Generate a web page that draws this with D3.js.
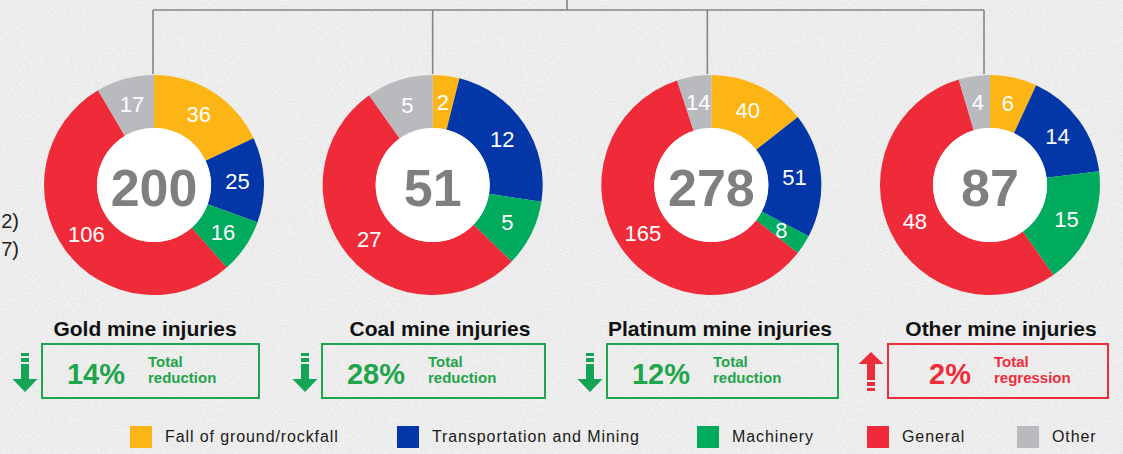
<!DOCTYPE html>
<html>
<head>
<meta charset="utf-8">
<script src="https://cdn.jsdelivr.net/npm/d3@7"></script>
<style>
  html, body { margin: 0; padding: 0; background: #efefef; }
  svg { display: block; font-family: "Liberation Sans", Arial, sans-serif; }
</style>
</head>
<body>
<svg id="chart" width="1123" height="454"></svg>
<script>
// ---- data ----
const categories = ["Fall of ground/rockfall", "Transportation and Mining", "Machinery", "General", "Other"];
const mines = ["Gold mine injuries", "Coal mine injuries", "Platinum mine injuries", "Other mine injuries"];
const goldValues = [36, 25, 16, 106, 17];
const coalValues = [2, 12, 5, 27, 5];
const platinumValues = [40, 51, 8, 165, 14];
const otherValues = [6, 14, 15, 48, 4];
const totals = [200, 51, 278, 87];
const changePct = ["14%", "28%", "12%", "2%"];
const changeDir = ["down", "down", "down", "up"];
const changeText = [["Total", "reduction"], ["Total", "reduction"], ["Total", "reduction"], ["Total", "regression"]];
const sideText = ["2)", "7)"];

const seriesValues = [goldValues, coalValues, platinumValues, otherValues];
const colors = ["#fdb515", "#0336a6", "#00ab5e", "#ef2b3a", "#b8babd"];

const svg = d3.select("#chart");
const W = 1123, H = 454;

// background texture
const defs = svg.append("defs");
const f = defs.append("filter").attr("id", "tex").attr("x", 0).attr("y", 0).attr("width", "100%").attr("height", "100%");
f.append("feTurbulence").attr("type", "fractalNoise").attr("baseFrequency", 0.8).attr("numOctaves", 2).attr("seed", 3).attr("result", "n");
f.append("feColorMatrix").attr("in", "n").attr("type", "matrix")
  .attr("values", "0 0 0 0 0.45  0 0 0 0 0.45  0 0 0 0 0.45  0 0 0 -1.6 0.9");
svg.append("rect").attr("width", W).attr("height", H).attr("fill", "#f0f0f0");
svg.append("rect").attr("width", W).attr("height", H).attr("filter", "url(#tex)").attr("opacity", 0.4);

const x = d3.scalePoint().domain(mines).range([154, 990]);
const cy = 185, rOuter = 110, rInner = 57;

// connector lines
const lineOffsets = [-1, 0, -4, -6];
const lineX = mines.map((m, i) => x(m) + lineOffsets[i]);
const lineG = svg.append("g").attr("stroke", "#858585").attr("stroke-width", 1.6).attr("fill", "none");
lineG.append("line").attr("x1", lineX[0]).attr("x2", lineX[3]).attr("y1", 10).attr("y2", 10);
lineG.append("line").attr("x1", 567).attr("x2", 567).attr("y1", 0).attr("y2", 10);
lineX.forEach(lx => lineG.append("line").attr("x1", lx).attr("x2", lx).attr("y1", 10).attr("y2", 74));

// side text (cut off)
svg.append("g").selectAll("text").data(sideText).join("text")
  .attr("x", 19).attr("y", (d, i) => 228 + i * 28)
  .attr("text-anchor", "end").attr("font-size", 20).attr("fill", "#222").text(d => d);

const pie = d3.pie().sort(null).value(d => d);
const arc = d3.arc().innerRadius(rInner).outerRadius(rOuter);
const labelArc = d3.arc().innerRadius((rInner + rOuter) / 2).outerRadius((rInner + rOuter) / 2);

const titleX = [145, 440, 720, 1001];
const boxLeft = [42, 322, 607, 888];
const boxW = [217, 223, 231, 220];

mines.forEach((m, i) => {
  const g = svg.append("g").attr("transform", `translate(${x(m)},${cy})`);
  const arcs = pie(seriesValues[i]);
  g.selectAll("path").data(arcs).join("path")
    .attr("d", arc).attr("fill", (d, j) => colors[j]);
  g.append("circle").attr("r", rInner).attr("fill", "#ffffff");
  g.selectAll("text.lbl").data(arcs).join("text").attr("class", "lbl")
    .attr("transform", d => `translate(${labelArc.centroid(d)})`)
    .attr("text-anchor", "middle").attr("dy", "0.36em")
    .attr("font-size", 22).attr("fill", "#ffffff").text(d => d.data);
  g.append("text").attr("text-anchor", "middle").attr("dy", "0.36em").attr("y", 2)
    .attr("font-size", 52).attr("font-weight", "bold").attr("fill", "#7f7f7f").text(totals[i]);

  // title
  svg.append("text").attr("x", titleX[i]).attr("y", 336)
    .attr("text-anchor", "middle").attr("font-size", 21).attr("font-weight", "bold").attr("fill", "#111")
    .text(m);

  // box
  const col = changeDir[i] === "down" ? "#1fa54c" : "#ee2d3b";
  const boxL = boxLeft[i];
  svg.append("rect").attr("x", boxL).attr("y", 344).attr("width", boxW[i]).attr("height", 54)
    .attr("fill", "none").attr("stroke", col).attr("stroke-width", 2);
  svg.append("text").attr("x", boxL + 83).attr("y", 384).attr("text-anchor", "end")
    .attr("font-size", 29).attr("font-weight", "bold").attr("fill", col).text(changePct[i]);
  const tt = svg.append("text").attr("x", boxL + 106).attr("y", 367)
    .attr("font-size", 15).attr("font-weight", "bold").attr("fill", col);
  tt.append("tspan").attr("x", boxL + 106).text(changeText[i][0]);
  tt.append("tspan").attr("x", boxL + 106).attr("dy", 16).text(changeText[i][1]);

  // arrow
  const ax = boxL - 17;
  const ag = svg.append("g").attr("fill", changeDir[i] === "down" ? "#13a455" : "#ee2d3b");
  if (changeDir[i] === "down") {
    ag.append("rect").attr("x", ax - 4).attr("y", 353).attr("width", 8).attr("height", 3);
    ag.append("rect").attr("x", ax - 4).attr("y", 358).attr("width", 8).attr("height", 4);
    ag.append("rect").attr("x", ax - 4).attr("y", 364).attr("width", 8).attr("height", 17);
    ag.append("path").attr("d", `M${ax - 12.5},379 L${ax + 12.5},379 L${ax},392 Z`);
  } else {
    ag.append("path").attr("d", `M${ax - 12.5},364 L${ax + 12.5},364 L${ax},352 Z`);
    ag.append("rect").attr("x", ax - 4).attr("y", 363).attr("width", 8).attr("height", 17);
    ag.append("rect").attr("x", ax - 4).attr("y", 382).attr("width", 8).attr("height", 4);
    ag.append("rect").attr("x", ax - 4).attr("y", 388).attr("width", 8).attr("height", 3);
  }
});

// legend
const legX = [130, 397, 697, 867, 1017];
const leg = svg.append("g").selectAll("g").data(categories).join("g")
  .attr("transform", (d, i) => `translate(${legX[i]},426)`);
leg.append("rect").attr("width", 22).attr("height", 22).attr("fill", (d, i) => colors[i]);
leg.append("text").attr("x", 35).attr("y", 16).attr("font-size", 16).attr("letter-spacing", 0.9)
  .attr("fill", "#1a1a1a").text(d => d);
</script>
</body>
</html>
